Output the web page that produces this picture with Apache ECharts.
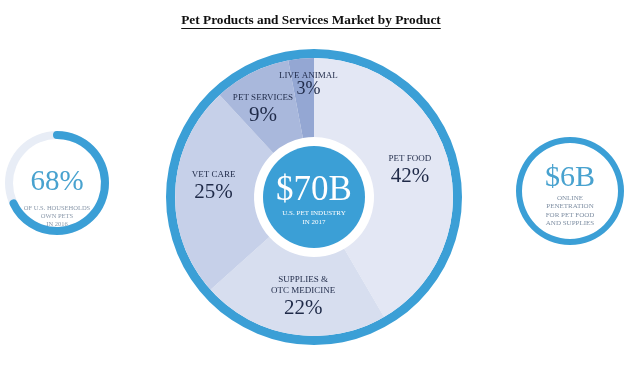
<!DOCTYPE html>
<html><head><meta charset="utf-8">
<style>html,body{margin:0;padding:0;background:#fff}#c{width:644px;height:375px}</style>
<script src="https://cdn.jsdelivr.net/npm/echarts@6/dist/echarts.min.js"></script>
</head><body><div id="c"></div>
<script>
var titleText = 'Pet Products and Services Market by Product';
var categories = ['PET FOOD', 'SUPPLIES &\nOTC MEDICINE', 'VET CARE', 'PET SERVICES', 'LIVE ANIMAL'];
var shares = [42, 22, 25, 9, 3];
var industryTotal = '$70B';
var industryNote = ['U.S. PET INDUSTRY', 'IN 2017'];
var householdShare = 68;
var householdNote = ['OF U.S. HOUSEHOLDS', 'OWN PETS', 'IN 2016'];
var onlineValue = '$6B';
var onlineNote = ['ONLINE', 'PENETRATION', 'FOR PET FOOD', 'AND SUPPLIES'];

var sliceColors = ['#e3e7f4', '#d7deef', '#c6d0e9', '#a9b8dc', '#94a7d3'];
var BLUE = '#3b9fd6';
var SERIF = '"Liberation Serif", "DejaVu Serif", serif';
var INK = '#1f2a48';

var titleFont = 'bold 13.3px "Liberation Serif"';
var mc = document.createElement('canvas').getContext('2d');
mc.font = titleFont;
var tw = mc.measureText(titleText).width;
var TX = 311;

var chart = echarts.init(document.getElementById('c'), null, {renderer: 'canvas'});
var sliceData = categories.map(function (c, i) {
  return {name: c, value: shares[i], itemStyle: {color: sliceColors[i]}};
});
var labelShift = [[-3, 1], [5, -1], [2, -5], [-5, 5], [4, -11]];
var option = {
  backgroundColor: '#ffffff',
  animation: false,
  graphic: [
    {type: 'text', x: TX, y: 14, style: {text: titleText, font: titleFont, fill: '#111', textAlign: 'center'}},
    {type: 'line', shape: {x1: TX - tw / 2, y1: 28.5, x2: TX + tw / 2, y2: 28.5}, style: {stroke: '#111', lineWidth: 1}}
  ],
  series: [
    {
      type: 'pie', center: [314, 197], radius: [139, 148], silent: true,
      label: {show: false}, labelLine: {show: false},
      data: [{value: 1, itemStyle: {color: BLUE}}]
    },
    {
      type: 'pie', center: [314, 197], radius: [60, 139], startAngle: 90, clockwise: true,
      silent: true, labelLine: {show: false}, avoidLabelOverlap: false,
      label: {
        show: true, position: 'inside', fontFamily: SERIF, color: INK, lineHeight: 11,
        formatter: function (p) {
          var big = p.dataIndex === 4 ? 'w' : 'v';
          return '{n|' + p.name.split('\n').join('}\n{n|') + '}\n{' + big + '|' + p.value + '%}';
        },
        rich: {
          n: {fontFamily: SERIF, fontSize: 9, color: INK, lineHeight: 11, align: 'center'},
          v: {fontFamily: SERIF, fontSize: 21, color: INK, lineHeight: 25, align: 'center'},
          w: {fontFamily: SERIF, fontSize: 18, color: INK, lineHeight: 16, align: 'center'}
        }
      },
      labelLayout: function (p) {
        var s = labelShift[p.dataIndex];
        return {dx: s[0], dy: s[1], hideOverlap: false};
      },
      data: sliceData
    },
    {
      type: 'pie', center: [314, 197], radius: [0, 51], silent: true, labelLine: {show: false},
      label: {
        show: true, position: 'center',
        formatter: '{a|' + industryTotal + '}\n{b|' + industryNote.join('}\n{b|') + '}',
        rich: {
          a: {fontFamily: SERIF, fontSize: 35, color: '#fff', lineHeight: 35, align: 'center'},
          b: {fontFamily: SERIF, fontSize: 7, color: '#fff', lineHeight: 9, align: 'center'}
        }
      },
      labelLayout: {dy: 3},
      data: [{value: 1, name: 'total', itemStyle: {color: BLUE}}]
    },
    {
      type: 'gauge', center: [57, 183], radius: 52, startAngle: 90, endAngle: -270,
      min: 0, max: 100, silent: true,
      axisLine: {lineStyle: {width: 8, color: [[1, '#e8edf6']]}},
      progress: {show: true, width: 8, roundCap: true, itemStyle: {color: BLUE}},
      pointer: {show: false}, axisTick: {show: false}, splitLine: {show: false}, axisLabel: {show: false},
      anchor: {show: false},
      title: {show: true, offsetCenter: [0, '64%'], fontFamily: SERIF, fontSize: 6.5, color: '#8a98aa', lineHeight: 8},
      detail: {show: true, offsetCenter: [0, '-2%'], formatter: '{value}%', fontFamily: SERIF, fontSize: 29, fontWeight: 'normal', color: '#48a2cf'},
      data: [{value: householdShare, name: householdNote.join('\n')}]
    },
    {
      type: 'pie', center: [570, 191], radius: [48, 54], silent: true, labelLine: {show: false},
      label: {
        show: true, position: 'center',
        formatter: '{a|' + onlineValue + '}\n{b|' + onlineNote.join('}\n{b|') + '}',
        rich: {
          a: {fontFamily: SERIF, fontSize: 30, color: '#48a2cf', lineHeight: 31.6, align: 'center'},
          b: {fontFamily: SERIF, fontSize: 7, color: '#7f8fa3', lineHeight: 8.4, align: 'center'}
        }
      },
      labelLayout: {dy: 4},
      data: [{value: 1, name: 'online', itemStyle: {color: BLUE}}]
    }
  ]
};
chart.setOption(option);
</script></body></html>
